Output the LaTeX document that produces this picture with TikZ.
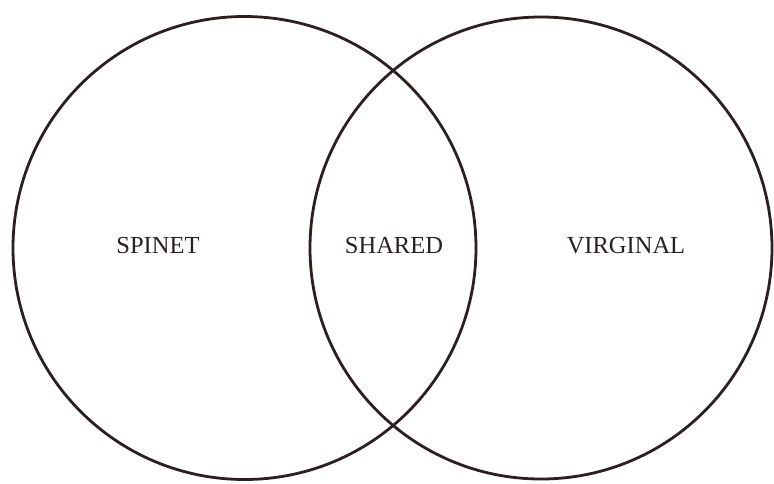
\documentclass[tikz,border=0pt]{standalone}
\usepackage{fontspec}
\setmainfont{Liberation Serif}
\definecolor{ink}{HTML}{2B1F1F}
\begin{document}
\begin{tikzpicture}[x=1pt,y=-1pt,
  ring/.style={draw=ink,line width=2.8pt,circle,minimum size=#1,inner sep=0pt},
  lbl/.style={text=ink,font=\fontsize{24.5}{28}\selectfont,inner sep=0pt}]
\useasboundingbox (0,0) rectangle (774,483);
\node[ring=463pt] (L) at (244.5,248) {};
\node[ring=462pt] (R) at (541,248) {};
\node[lbl] (spinet) at (158,246) {SPINET};
\node[lbl] (shared) at (394,246) {SHARED};
\node[lbl] (virginal) at (626,246) {VIRGINAL};
\end{tikzpicture}
\end{document}
